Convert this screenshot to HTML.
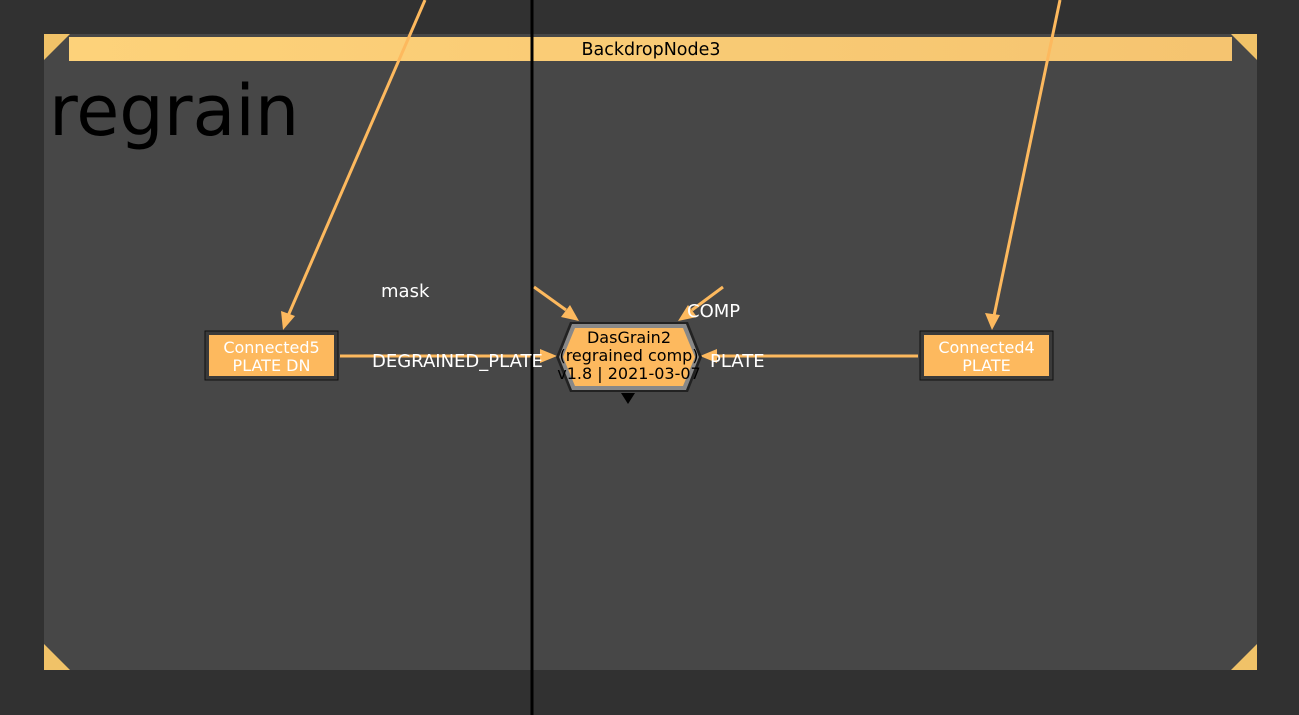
<!DOCTYPE html>
<html><head><style>
html,body{margin:0;padding:0;background:#333;}
svg{display:block;font-family:"DejaVu Sans","Liberation Sans",sans-serif;}
</style></head><body>
<svg width="1299" height="715" viewBox="0 0 1299 715">
<rect width="1299" height="715" fill="#313131"/>
<defs><linearGradient id="g" x1="0" x2="1"><stop offset="0" stop-color="#fdd27a"/><stop offset="1" stop-color="#f5c470"/></linearGradient></defs>
<rect x="44" y="34" width="1213" height="636" fill="#474747"/>
<rect x="69" y="37" width="1163" height="24" fill="url(#g)"/>
<polygon points="44,34 70,34 44,60" fill="#f0c268"/>
<polygon points="1257,34 1231,34 1257,60" fill="#f0c268"/>
<polygon points="44,670 70,670 44,644" fill="#f0c268"/>
<polygon points="1257,670 1231,670 1257,644" fill="#f0c268"/>
<text x="651" y="55" font-size="17.5" text-anchor="middle" fill="#000">BackdropNode3</text>
<text x="49" y="135" font-size="70" fill="#000">regrain</text>
<g stroke="#fdb95e" stroke-width="3" fill="none">
<line x1="425" y1="0" x2="288" y2="316"/>
<line x1="1060" y1="0" x2="994" y2="316"/>
<line x1="340" y1="356" x2="543" y2="356"/>
<line x1="918" y1="356" x2="714" y2="356"/>
<line x1="534" y1="287" x2="566" y2="310"/>
<line x1="723" y1="287" x2="692" y2="310"/>
</g>
<g fill="#fdb95e">
<polygon points="283,330 281,311 295,316"/>
<polygon points="992,330 985,313 1000,315"/>
<polygon points="557,356 540,349 540,363"/>
<polygon points="700,356 717,349 717,363"/>
<polygon points="579,321 561,317 570,305"/>
<polygon points="678,321 688,305 697,317"/>
</g>
<line x1="532" y1="0" x2="532" y2="715" stroke="#000" stroke-width="3"/>
<rect x="205" y="331" width="133" height="49" fill="#3a3a3a" stroke="#111" stroke-width="1"/>
<rect x="209" y="335" width="125" height="41" fill="#fdb95e"/>
<text x="271.5" y="353" font-size="16" text-anchor="middle" fill="#fff">Connected5</text>
<text x="271.5" y="371" font-size="16" text-anchor="middle" fill="#fff">PLATE DN</text>
<rect x="920" y="331" width="133" height="49" fill="#3a3a3a" stroke="#111" stroke-width="1"/>
<rect x="924" y="335" width="125" height="41" fill="#fdb95e"/>
<text x="986.5" y="353" font-size="16" text-anchor="middle" fill="#fff">Connected4</text>
<text x="986.5" y="371" font-size="16" text-anchor="middle" fill="#fff">PLATE</text>
<polygon points="556,357 570,322 688,322 702,357 688,392 570,392" fill="#222"/>
<polygon points="559,357 572,324 686,324 699,357 686,390 572,390" fill="#888"/>
<polygon points="563,357 575,328 683,328 695,357 683,386 575,386" fill="#fdb95e"/>
<text x="629" y="343" font-size="16" text-anchor="middle" fill="#000">DasGrain2</text>
<text x="629" y="361" font-size="16" text-anchor="middle" fill="#000">(regrained comp)</text>
<text x="629" y="379" font-size="16" text-anchor="middle" fill="#000">v1.8 | 2021-03-07</text>
<polygon points="621,393 635,393 628,404" fill="#000"/>
<g font-size="18" fill="#fff">
<text x="381" y="297">mask</text>
<text x="687" y="317">COMP</text>
<text x="372" y="367">DEGRAINED_PLATE</text>
<text x="710" y="367">PLATE</text>
</g>
</svg>
</body></html>
